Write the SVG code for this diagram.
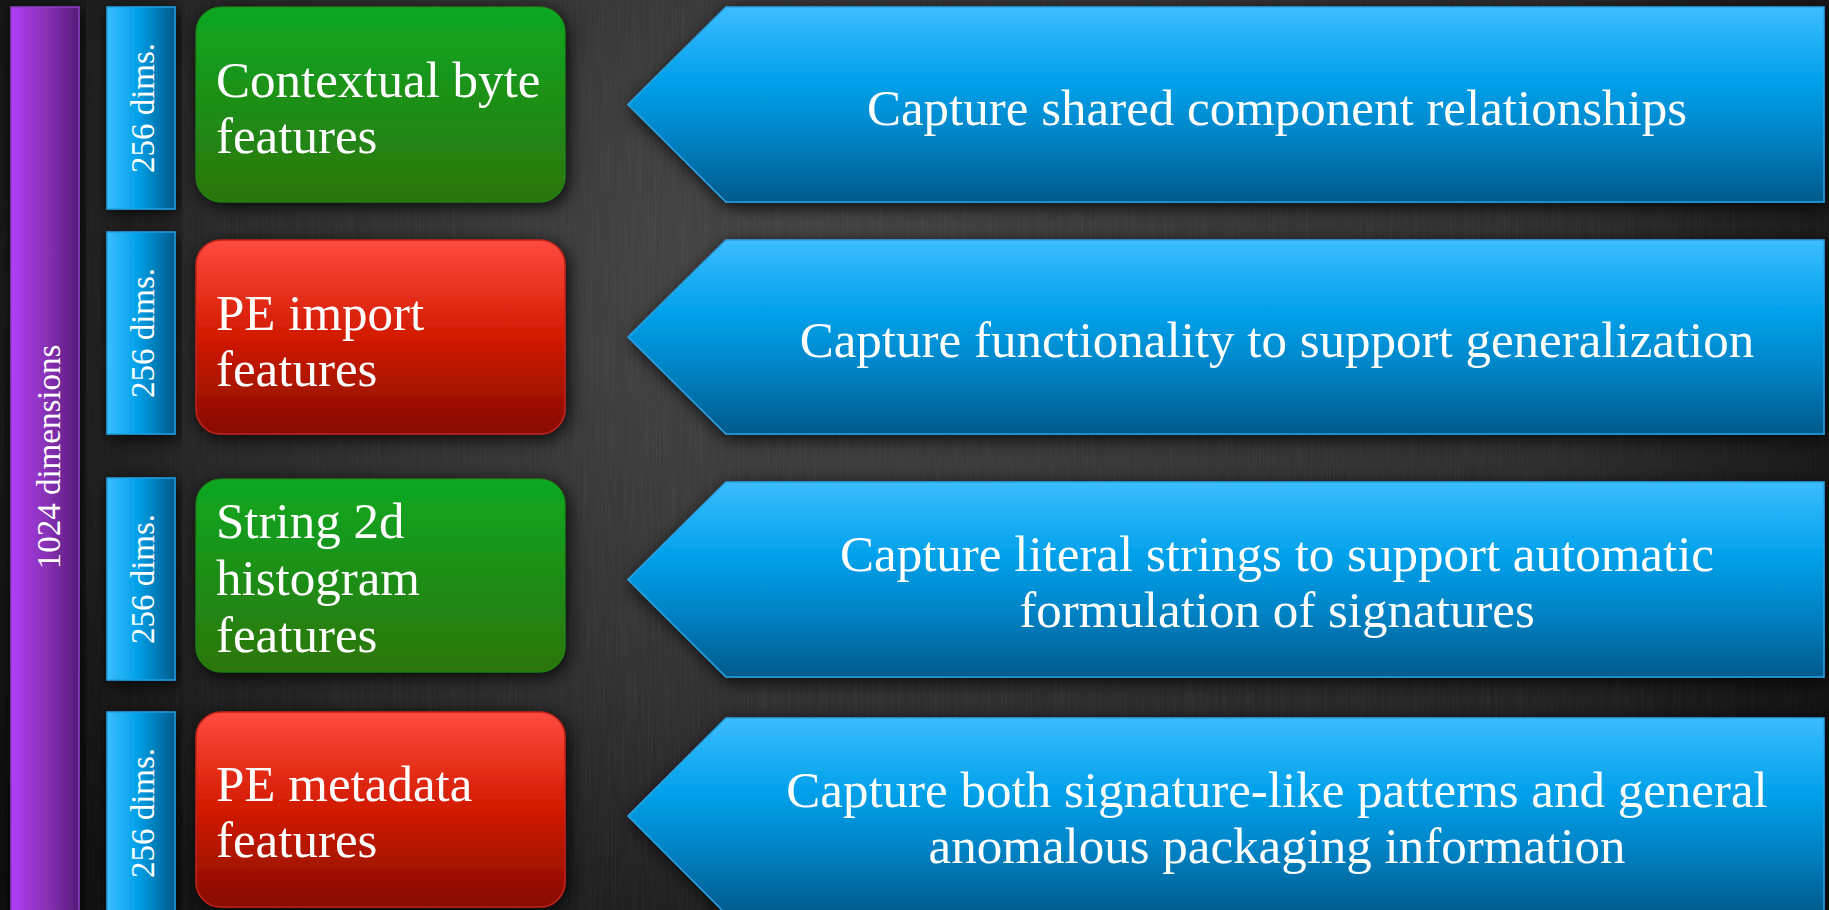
<svg xmlns="http://www.w3.org/2000/svg" width="1829" height="910" viewBox="0 0 1829 910">
<defs>
  <radialGradient id="bg" cx="0.45" cy="0.3" r="0.75">
    <stop offset="0" stop-color="#474747"/>
    <stop offset="0.6" stop-color="#333333"/>
    <stop offset="1" stop-color="#1c1c1c"/>
  </radialGradient>
  <linearGradient id="bgEdge" x1="0" y1="0" x2="1" y2="0">
    <stop offset="0" stop-color="#000" stop-opacity="0.55"/>
    <stop offset="0.12" stop-color="#000" stop-opacity="0.25"/>
    <stop offset="0.35" stop-color="#000" stop-opacity="0"/>
    <stop offset="0.85" stop-color="#000" stop-opacity="0.1"/>
    <stop offset="1" stop-color="#000" stop-opacity="0.4"/>
  </linearGradient>
  <linearGradient id="gPurple" x1="0" y1="0" x2="1" y2="0">
    <stop offset="0" stop-color="#b13ef8"/>
    <stop offset="0.5" stop-color="#8a32b8"/>
    <stop offset="1" stop-color="#571b78"/>
  </linearGradient>
  <linearGradient id="gBar" x1="0" y1="0" x2="1" y2="0">
    <stop offset="0" stop-color="#3cbeff"/>
    <stop offset="0.45" stop-color="#00a0e8"/>
    <stop offset="1" stop-color="#005a8a"/>
  </linearGradient>
  <linearGradient id="gGreen" x1="0" y1="0" x2="0" y2="1">
    <stop offset="0" stop-color="#0ea822"/>
    <stop offset="1" stop-color="#2d750c"/>
  </linearGradient>
  <linearGradient id="gRed" x1="0" y1="0" x2="0" y2="1">
    <stop offset="0" stop-color="#ff4b40"/>
    <stop offset="0.5" stop-color="#d21a00"/>
    <stop offset="1" stop-color="#860c00"/>
  </linearGradient>
  <linearGradient id="gArrow" x1="0" y1="0" x2="0" y2="1">
    <stop offset="0" stop-color="#3cbdff"/>
    <stop offset="0.38" stop-color="#00a1ea"/>
    <stop offset="0.65" stop-color="#0085c8"/>
    <stop offset="1" stop-color="#005a8c"/>
  </linearGradient>
  <filter id="shadow" x="-10%" y="-20%" width="120%" height="140%">
    <feDropShadow dx="3" dy="4" stdDeviation="9" flood-color="#000" flood-opacity="0.85"/>
  </filter>
  <filter id="tex" x="0" y="0" width="100%" height="100%">
    <feTurbulence type="fractalNoise" baseFrequency="0.6 0.015" numOctaves="2" seed="3"/>
    <feColorMatrix type="matrix" values="0 0 0 0 1  0 0 0 0 1  0 0 0 0 1  0 0 0 0.9 -0.35"/>
  </filter>
  <style>
    .lbl { font-family: "Liberation Serif", "DejaVu Serif", serif; fill: #ffffff; }
    .main { font-size: 51px; }
    .side { font-size: 33px; }
    .bar { fill: url(#gBar); stroke: #1f9fe3; stroke-width: 1.5; filter: url(#shadow); }
    .green { fill: url(#gGreen); stroke: #1c8a16; stroke-width: 1; filter: url(#shadow); }
    .red { fill: url(#gRed); stroke: #c2231a; stroke-width: 1.5; filter: url(#shadow); }
    .arrow { fill: url(#gArrow); stroke: #2aa3e6; stroke-width: 1.5; filter: url(#shadow); }
  </style>
</defs>

<rect x="0" y="0" width="1829" height="910" fill="url(#bg)"/>
<rect x="0" y="0" width="1829" height="910" filter="url(#tex)" opacity="0.09"/>
<rect x="0" y="0" width="1829" height="910" fill="url(#bgEdge)"/>

<g id="total">
  <rect x="11" y="7" width="68" height="910" fill="url(#gPurple)" stroke="#8e3fc6" stroke-width="1.5" filter="url(#shadow)"/>
  <text class="lbl side" transform="translate(60,457) rotate(-90)" text-anchor="middle">1024 dimensions</text>
</g>

<g id="dims1">
  <rect class="bar" x="107" y="7" width="68" height="202"/>
  <text class="lbl side" transform="translate(154,108) rotate(-90)" text-anchor="middle">256 dims.</text>
</g>
<g id="dims2">
  <rect class="bar" x="107" y="232" width="68" height="202"/>
  <text class="lbl side" transform="translate(154,333) rotate(-90)" text-anchor="middle">256 dims.</text>
</g>
<g id="dims3">
  <rect class="bar" x="107" y="478" width="68" height="202"/>
  <text class="lbl side" transform="translate(154,579) rotate(-90)" text-anchor="middle">256 dims.</text>
</g>
<g id="dims4">
  <rect class="bar" x="107" y="712" width="68" height="202"/>
  <text class="lbl side" transform="translate(154,813) rotate(-90)" text-anchor="middle">256 dims.</text>
</g>

<g id="contextual">
  <rect class="green" x="196" y="7" width="369" height="195" rx="25" ry="25"/>
  <text class="lbl main" x="216" y="97">Contextual byte</text>
  <text class="lbl main" x="216" y="153">features</text>
</g>
<g id="import">
  <rect class="red" x="196" y="240" width="369" height="194" rx="25" ry="25"/>
  <text class="lbl main" x="216" y="330">PE import</text>
  <text class="lbl main" x="216" y="386">features</text>
</g>
<g id="string">
  <rect class="green" x="196" y="479" width="369" height="193" rx="25" ry="25"/>
  <text class="lbl main" x="216" y="538">String 2d</text>
  <text class="lbl main" x="216" y="595">histogram</text>
  <text class="lbl main" x="216" y="652">features</text>
</g>
<g id="metadata">
  <rect class="red" x="196" y="712" width="369" height="195" rx="25" ry="25"/>
  <text class="lbl main" x="216" y="801">PE metadata</text>
  <text class="lbl main" x="216" y="857">features</text>
</g>

<g id="purpose1">
  <polygon class="arrow" points="628,104.5 726,7 1824,7 1824,202 726,202"/>
  <text class="lbl main" x="1277" y="125" text-anchor="middle">Capture shared component relationships</text>
</g>
<g id="purpose2">
  <polygon class="arrow" points="628,337 726,240 1824,240 1824,434 726,434"/>
  <text class="lbl main" x="1277" y="357" text-anchor="middle">Capture functionality to support generalization</text>
</g>
<g id="purpose3">
  <polygon class="arrow" points="628,579.5 726,482 1824,482 1824,677 726,677"/>
  <text class="lbl main" x="1277" y="571" text-anchor="middle">Capture literal strings to support automatic</text>
  <text class="lbl main" x="1277" y="627" text-anchor="middle">formulation of signatures</text>
</g>
<g id="purpose4">
  <polygon class="arrow" points="628,816 726,718 1824,718 1824,914 726,914"/>
  <text class="lbl main" x="1277" y="807" text-anchor="middle">Capture both signature-like patterns and general</text>
  <text class="lbl main" x="1277" y="863" text-anchor="middle">anomalous packaging information</text>
</g>

<g id="connectors"/>
</svg>
